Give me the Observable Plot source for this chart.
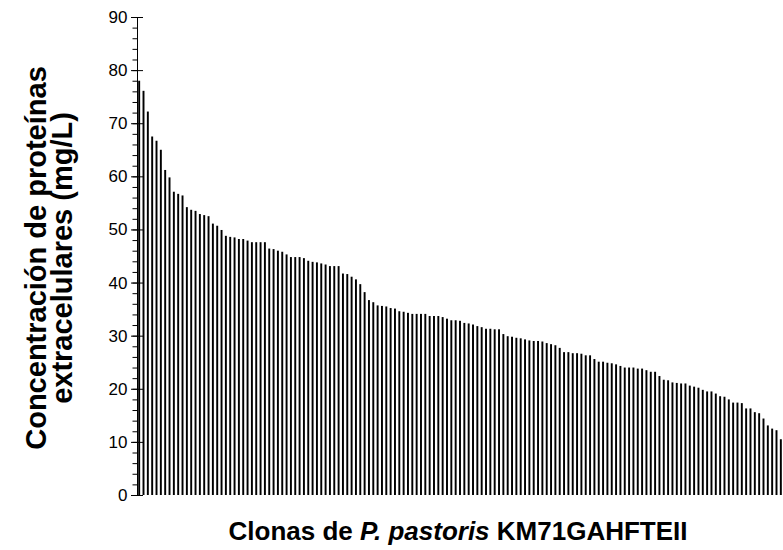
<!DOCTYPE html>
<html>
<head>
<meta charset="utf-8">
<script src="https://cdn.jsdelivr.net/npm/d3@7"></script>
<script src="https://cdn.jsdelivr.net/npm/@observablehq/plot@0.6"></script>
<style>
  body { margin: 0; background: #fff; }
  #chart svg { display: block; }
</style>
</head>
<body>
<div id="chart"></div>
<script>
// Extracellular protein concentration (mg/L) per clone, sorted descending
const concentration = [
  78.0, 76.1, 72.2, 67.5, 66.7, 65.0, 61.2, 59.8, 57.1, 56.7,
  56.4, 54.2, 53.7, 53.5, 52.9, 52.7, 52.5, 51.1, 50.7, 49.9,
  48.8, 48.6, 48.5, 48.2, 48.2, 47.9, 47.6, 47.6, 47.6, 47.6,
  46.4, 46.3, 46.0, 45.8, 45.3, 44.8, 44.8, 44.8, 44.6, 44.1,
  43.9, 43.8, 43.6, 43.4, 43.1, 43.1, 43.1, 41.7, 41.6, 41.1,
  40.6, 39.7, 38.2, 36.7, 36.3, 35.7, 35.6, 35.5, 35.2, 35.1,
  34.6, 34.5, 34.3, 34.1, 34.1, 34.1, 34.1, 33.7, 33.7, 33.7,
  33.5, 33.2, 32.9, 32.9, 32.8, 32.4, 32.3, 32.1, 31.8, 31.6,
  31.3, 31.3, 31.2, 31.2, 30.3, 29.9, 29.8, 29.6, 29.5, 29.3,
  29.1, 29.0, 29.0, 28.9, 28.6, 28.4, 28.2, 27.7, 26.9, 26.9,
  26.7, 26.7, 26.6, 26.3, 26.3, 25.6, 25.1, 25.1, 24.9, 24.8,
  24.6, 24.3, 24.0, 24.0, 24.0, 23.8, 23.8, 23.5, 23.2, 23.2,
  22.4, 21.7, 21.6, 21.2, 21.1, 21.0, 21.0, 20.6, 20.4, 20.2,
  19.8, 19.5, 19.5, 19.1, 18.6, 18.5, 18.0, 17.4, 17.4, 17.3,
  16.3, 16.3, 15.6, 15.4, 14.4, 13.1, 12.5, 12.2, 10.5
];
// Clone identifiers (categories on the x axis, unlabeled)
const clones = concentration.map((_, i) => `C${i + 1}`);
// Y axis ticks
const yMajorTicks = [0, 10, 20, 30, 40, 50, 60, 70, 80, 90];
const yMinorTicks = [0, 2, 4, 6, 8, 10, 12, 14, 16, 18, 20, 22, 24, 26, 28, 30, 32, 34, 36, 38, 40,
  42, 44, 46, 48, 50, 52, 54, 56, 58, 60, 62, 64, 66, 68, 70, 72, 74, 76, 78, 80, 82, 84, 86, 88, 90];
// Titles
const yTitleLines = ["Concentración de proteínas", "extracelulares (mg/L)"];
const xTitleParts = [
  {text: "Clonas de ", italic: false},
  {text: "P. pastoris", italic: true},
  {text: " KM71GAHFTEII", italic: false}
];

const data = clones.map((c, i) => ({clone: c, value: concentration[i]}));

const FONT = "'Liberation Sans', Arial, Helvetica, sans-serif";

const chart = Plot.plot({
  width: 783,
  height: 550,
  marginLeft: 137,
  marginRight: 0,
  marginTop: 17,
  marginBottom: 55,
  style: {fontFamily: FONT, fontSize: "17px", color: "#000", background: "#fff", overflow: "visible"},
  x: {type: "band", domain: clones, padding: 0, round: false, axis: null},
  y: {domain: [0, 90], range: [495, 17], label: null},
  marks: [
    Plot.barY(data, {x: "clone", y: "value", fill: "#000", insetLeft: 1.2, insetRight: 1.2}),
    Plot.frame({anchor: "left", stroke: "#000", strokeWidth: 1}),
    Plot.axisY(yMinorTicks, {tickSize: 4.5, tickFormat: () => "", stroke: "#000", label: null}),
    Plot.axisY(yMajorTicks, {tickSize: 12, dx: 6, tickFormat: () => "", stroke: "#000", label: null}),
    Plot.axisY(yMajorTicks, {tickSize: 0, tickPadding: 10, fontSize: 17, fill: "#000", label: null})
  ]
});

document.getElementById("chart").appendChild(chart);

const svg = d3.select(chart);
// Y title (two rotated lines)
const yCenter = 258;
[36, 62].forEach((x, i) => {
  svg.append("text")
    .attr("transform", `translate(${x},${yCenter}) rotate(-90)`)
    .attr("text-anchor", "middle")
    .attr("dy", "0.35em")
    .style("font-family", FONT)
    .style("font-weight", "bold")
    .style("font-size", "29px")
    .attr("fill", "#000")
    .text(yTitleLines[i]);
});
// X title with italic species name
const xt = svg.append("text")
  .attr("x", 458)
  .attr("y", 540)
  .attr("text-anchor", "middle")
  .style("font-family", FONT)
  .style("font-weight", "bold")
  .style("font-size", "26px")
  .attr("fill", "#000");
xTitleParts.forEach(p => {
  xt.append("tspan").style("font-style", p.italic ? "italic" : "normal").text(p.text);
});
</script>
</body>
</html>
